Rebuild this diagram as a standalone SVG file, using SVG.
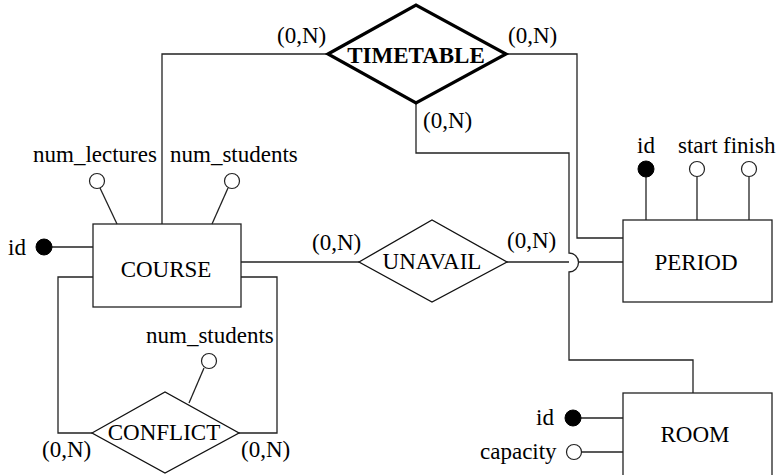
<svg xmlns="http://www.w3.org/2000/svg" width="776" height="475" viewBox="0 0 776 475">
<style>
.ln{fill:none;stroke:#222;stroke-width:1.3}
.box{fill:#fff;stroke:#222;stroke-width:1.3}
.rel{fill:#fff;stroke:#111;stroke-width:1.3}
.bold{fill:#fff;stroke:#000;stroke-width:3.2;stroke-linejoin:miter}
.oa{fill:#fff;stroke:#222;stroke-width:1.2}
.ka{fill:#000;stroke:#000;stroke-width:1}
text{font-family:"Liberation Serif","Times New Roman",serif;font-size:23px;fill:#000}
.c{text-anchor:middle}
</style>
<g id="connectors">
  <polyline class="ln" points="162,224 162,54 328,54"/>
  <polyline class="ln" points="506,54 577,54 577,238 623,238"/>
  <path class="ln" d="M416,103 V153 H569 V253 A9.5,9.5 0 0 1 569,272 V360 H693 V393"/>
  <line class="ln" x1="241" y1="262" x2="359" y2="262"/>
  <line class="ln" x1="507" y1="262" x2="569" y2="262"/>
  <line class="ln" x1="578.5" y1="262" x2="623" y2="262"/>
  <polyline class="ln" points="93,277 58,277 58,433 92,433"/>
  <polyline class="ln" points="241,277 277,277 277,433 239,433"/>
</g>
<g id="course">
  <rect class="box" x="93" y="224" width="148" height="83"/>
  <text class="c" x="166" y="277">COURSE</text>
  <line class="ln" x1="52" y1="247" x2="93" y2="247"/>
  <circle class="ka" cx="44" cy="247" r="8"/>
  <text x="8" y="255">id</text>
  <line class="ln" x1="100" y1="188" x2="117" y2="224"/>
  <circle class="oa" cx="97" cy="181" r="7.5"/>
  <text x="33" y="162">num_lectures</text>
  <line class="ln" x1="228" y1="188" x2="212" y2="224"/>
  <circle class="oa" cx="232" cy="181" r="7.5"/>
  <text x="170" y="162">num_students</text>
</g>
<g id="timetable">
  <polygon class="bold" points="328,54 416,5 506,54 416,103"/>
  <text class="c" x="416" y="63" font-weight="bold">TIMETABLE</text>
  <text x="277" y="43">(0,N)</text>
  <text x="508" y="43">(0,N)</text>
  <text x="423" y="128">(0,N)</text>
</g>
<g id="unavail">
  <polygon class="rel" points="359,262 432,220 507,262 432,302"/>
  <text class="c" x="432" y="269">UNAVAIL</text>
  <text x="312" y="250">(0,N)</text>
  <text x="507" y="248">(0,N)</text>
</g>
<g id="conflict">
  <polygon class="rel" points="92,433 165,392 239,433 165,473"/>
  <text class="c" x="164" y="440">CONFLICT</text>
  <line class="ln" x1="204" y1="368" x2="189" y2="403"/>
  <circle class="oa" cx="209" cy="361" r="7.5"/>
  <text x="146" y="343">num_students</text>
  <text x="42" y="457">(0,N)</text>
  <text x="241" y="457">(0,N)</text>
</g>
<g id="period">
  <rect class="box" x="623" y="220" width="149" height="82"/>
  <text class="c" x="696" y="270">PERIOD</text>
  <line class="ln" x1="646" y1="177" x2="646" y2="220"/>
  <line class="ln" x1="697" y1="177" x2="697" y2="220"/>
  <line class="ln" x1="749" y1="177" x2="749" y2="220"/>
  <circle class="ka" cx="646" cy="169" r="8"/>
  <circle class="oa" cx="697" cy="169" r="7.5"/>
  <circle class="oa" cx="749" cy="169" r="7.5"/>
  <text class="c" x="646" y="153">id</text>
  <text x="678" y="153">start</text>
  <text x="723" y="153">finish</text>
</g>
<g id="room">
  <rect class="box" x="623" y="393" width="149" height="100"/>
  <text class="c" x="695" y="442">ROOM</text>
  <line class="ln" x1="581" y1="418" x2="623" y2="418"/>
  <circle class="ka" cx="573" cy="418" r="8"/>
  <text x="536" y="425">id</text>
  <line class="ln" x1="581.5" y1="452" x2="623" y2="452"/>
  <circle class="oa" cx="574" cy="452" r="7.5"/>
  <text x="480" y="459">capacity</text>
</g>
</svg>
